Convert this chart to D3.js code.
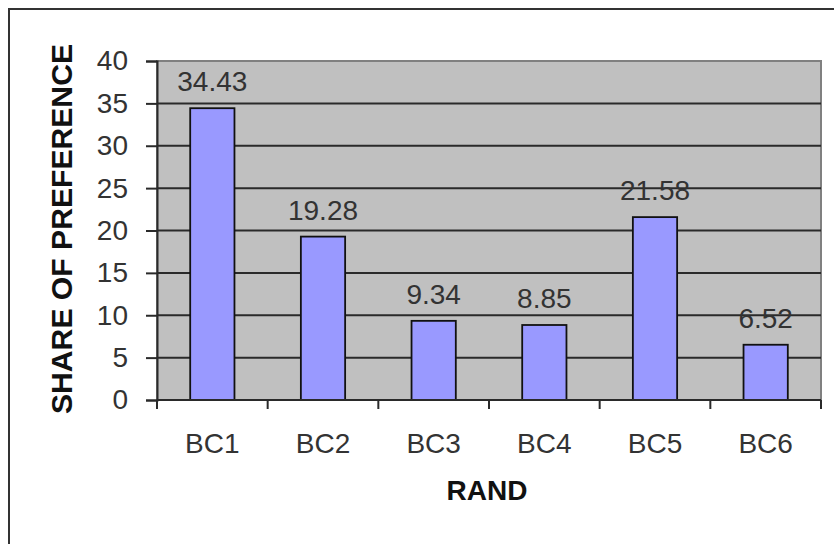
<!DOCTYPE html>
<html>
<head>
<meta charset="utf-8">
<script src="https://cdn.jsdelivr.net/npm/d3@7"></script>
<style>
  html, body { margin: 0; padding: 0; background: #fff; }
  svg { display: block; }
</style>
</head>
<body>
<svg id="chart" width="834" height="544"></svg>
<script>
// Brand share-of-preference data
const categories = ["BC1", "BC2", "BC3", "BC4", "BC5", "BC6"];
const shares = [34.43, 19.28, 9.34, 8.85, 21.58, 6.52];
const yTicks = [0, 5, 10, 15, 20, 25, 30, 35, 40];
const xTitle = "RAND";
const yTitle = "SHARE OF PREFERENCE";

const FONT = "Arial, 'Liberation Sans', sans-serif";
const svg = d3.select("#chart").attr("font-family", FONT);
const W = 834, H = 544;

// Outer chart frame (right and bottom edges run past the page)
svg.append("rect")
  .attr("x", 9).attr("y", 9)
  .attr("width", W + 20).attr("height", H + 20)
  .attr("fill", "#fff").attr("stroke", "#333").attr("stroke-width", 2);

const plot = { left: 157, top: 61, right: 821, bottom: 400 };

const x = d3.scaleBand()
  .domain(categories)
  .range([plot.left, plot.right])
  .paddingInner(0.6)
  .paddingOuter(0.3);

const xCat = d3.scaleBand()
  .domain(categories)
  .range([plot.left, plot.right]);

const y = d3.scaleLinear()
  .domain([0, 40])
  .range([plot.bottom, plot.top]);

// Plot area background
svg.append("rect")
  .attr("x", plot.left).attr("y", plot.top)
  .attr("width", plot.right - plot.left).attr("height", plot.bottom - plot.top)
  .attr("fill", "#c0c0c0")
  .attr("stroke", "#808080").attr("stroke-width", 2);

// Horizontal gridlines
svg.append("g")
  .selectAll("line")
  .data(yTicks.filter(t => t > 0 && t < 40))
  .join("line")
  .attr("x1", plot.left).attr("x2", plot.right)
  .attr("y1", d => y(d)).attr("y2", d => y(d))
  .attr("stroke", "#2a2a2a").attr("stroke-width", 2);

// Bars
svg.append("g")
  .selectAll("rect")
  .data(shares)
  .join("rect")
  .attr("x", (d, i) => x(categories[i]))
  .attr("y", d => y(d))
  .attr("width", x.bandwidth())
  .attr("height", d => y(0) - y(d))
  .attr("fill", "#9999ff")
  .attr("stroke", "#111").attr("stroke-width", 1.8);

// Value labels
svg.append("g")
  .selectAll("text")
  .data(shares)
  .join("text")
  .attr("x", (d, i) => x(categories[i]) + x.bandwidth() / 2)
  .attr("y", d => y(d) - 17)
  .attr("text-anchor", "middle")
  .attr("font-size", 28)
  .attr("fill", "#333")
  .text(d => d.toFixed(2));

// Y axis
const yAxis = d3.axisLeft(y).tickValues(yTicks).tickSize(11).tickPadding(18);
const gy = svg.append("g")
  .attr("transform", `translate(${plot.left},0)`)
  .call(yAxis);
gy.attr("font-family", FONT).attr("font-size", 28);
gy.select(".domain").attr("stroke", "#2a2a2a").attr("stroke-width", 2);
gy.selectAll(".tick line").attr("stroke", "#2a2a2a").attr("stroke-width", 2);
gy.selectAll(".tick text").attr("fill", "#333");

// X axis: ticks sit on category boundaries
const gx = svg.append("g")
  .attr("transform", `translate(0,${plot.bottom})`);
gx.append("line")
  .attr("x1", plot.left).attr("x2", plot.right)
  .attr("y1", 0).attr("y2", 0)
  .attr("stroke", "#2a2a2a").attr("stroke-width", 2);
const bounds = categories.map(c => xCat(c)).concat([plot.right]);
gx.selectAll("line.tk")
  .data(bounds)
  .join("line")
  .attr("class", "tk")
  .attr("x1", d => d).attr("x2", d => d)
  .attr("y1", 0).attr("y2", 9)
  .attr("stroke", "#2a2a2a").attr("stroke-width", 2);
gx.selectAll("text")
  .data(categories)
  .join("text")
  .attr("x", d => xCat(d) + xCat.bandwidth() / 2)
  .attr("y", 53)
  .attr("text-anchor", "middle")
  .attr("font-size", 28)
  .attr("fill", "#333")
  .text(d => d);

// Axis titles
svg.append("text")
  .attr("x", 487).attr("y", 500)
  .attr("text-anchor", "middle")
  .attr("font-size", 28).attr("font-weight", "bold")
  .attr("fill", "#111")
  .text(xTitle);

svg.append("text")
  .attr("transform", "translate(72,229) rotate(-90)")
  .attr("text-anchor", "middle")
  .attr("font-size", 30).attr("font-weight", "bold")
  .attr("textLength", 370).attr("lengthAdjust", "spacingAndGlyphs")
  .attr("fill", "#111")
  .text(yTitle);
</script>
</body>
</html>
